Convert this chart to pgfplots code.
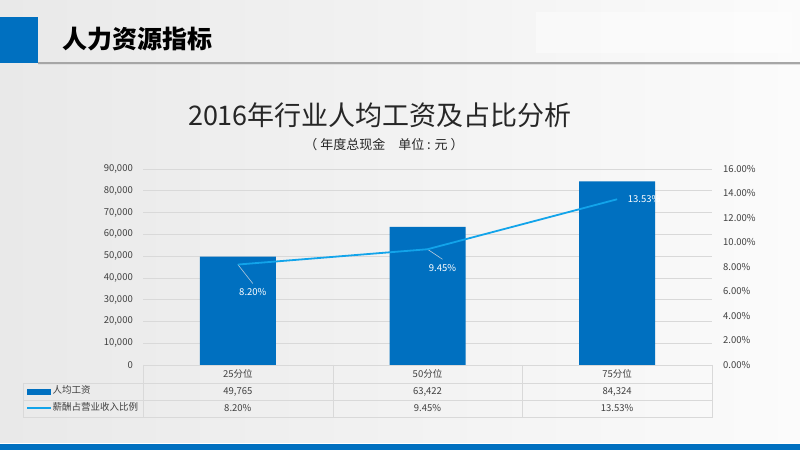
\documentclass[border=0pt]{standalone}
\usepackage{pgfplots}
\pgfplotsset{compat=1.18}
\usepackage{pgfplotstable}
\usepackage{fontspec}
\setmainfont{Noto Sans CJK SC}

\definecolor{barblue}{HTML}{0070C0}
\definecolor{lineblue}{HTML}{12A4EA}
\definecolor{gridgray}{HTML}{D9D9D9}
\definecolor{txt}{HTML}{404040}
\definecolor{leader}{HTML}{B4C8DC}
\definecolor{bgleft}{HTML}{E9E9E9}
\definecolor{bgright}{HTML}{FBFBFB}
\definecolor{rule}{HTML}{A6A6A6}
\definecolor{titletxt}{HTML}{262626}

% wage per percentile
\pgfplotstableread{
x wage
0 49765
1 63422
2 84324
}\wagedata

% share of revenue; dx dy = label offset (bp), u v = leader line (axis units)
\pgfplotstableread{
x ratio dx dy u v
0 8.20 15 -27 0.079 -1.55
1 9.45 15 -19 0.079 -0.82
2 13.53 27 0 0 0
}\ratiodata

\begin{document}
\begin{tikzpicture}
\useasboundingbox (0bp,0bp) rectangle (800bp,450bp);
\begin{scope}[x=1bp,y=1bp]
  \shade[left color=bgleft, right color=bgright] (0,0) rectangle (800,450);
  % header
  \fill[white, opacity=0.4] (536,397) rectangle (792,438);
  \fill[barblue] (0,387) rectangle (38,433);
  \draw[gray!25, line width=1bp] (38,385.6) -- (800,385.6);
  \draw[rule, line width=1.4bp] (38,387) -- (800,387);
  \node[anchor=west, inner sep=0pt, font=\fontsize{25bp}{25bp}\selectfont\bfseries] at (62,411) {人力资源指标};
  % titles
  \node[inner sep=0pt, text=titletxt, font=\fontsize{27bp}{27bp}\selectfont] at (380,335) {2016年行业人均工资及占比分析};
  \node[inner sep=0pt, text=titletxt, font=\fontsize{13bp}{13bp}\selectfont] at (384,305) {（ 年度总现金\quad 单位 : 元 ）};
  % bottom band
  \fill[barblue] (0,0) rectangle (800,6);
  \draw[white, line width=0.8bp] (0,6.8) -- (800,6.8);
\end{scope}

\begin{axis}[
  at={(143bp,85bp)}, anchor=south west,
  scale only axis, width=569bp, height=196bp,
  xmin=-0.5, xmax=2.5, ymin=0, ymax=90000,
  ytick={0,10000,...,90000},
  scaled y ticks=false,
  ymajorgrids, grid style={gridgray, line width=0.6bp},
  axis x line*=bottom, axis y line*=left,
  y axis line style={draw=none},
  x axis line style={gridgray, line width=0.8bp, -},
  major tick length=0pt,
  xtick={0,1,2},
  xticklabels={{25分位\\49,765\\8.20\%},{50分位\\63,422\\9.45\%},{75分位\\84,324\\13.53\%}},
  xticklabel style={font=\fontsize{9.5bp}{17bp}\selectfont, text=txt, align=center, anchor=north, inner sep=0pt, yshift=-4bp},
  yticklabel style={font=\fontsize{9.5bp}{10bp}\selectfont, text=txt, anchor=east, inner sep=0pt, xshift=-10bp},
  /pgf/number format/1000 sep={,},
  /pgf/number format/assume math mode=true,
]
\addplot[ybar, bar width=76bp, bar shift=0pt, fill=barblue, draw=none] table[x=x, y=wage] {\wagedata};
\end{axis}

\begin{axis}[
  at={(143bp,85bp)}, anchor=south west,
  scale only axis, width=569bp, height=196bp,
  xmin=-0.5, xmax=2.5, ymin=0, ymax=16,
  ytick={0,2,...,16},
  axis x line=none, axis y line*=right,
  y axis line style={draw=none},
  major tick length=0pt,
  yticklabel={\pgfmathprintnumber[fixed,fixed zerofill,precision=2]{\tick}\%},
  yticklabel style={font=\fontsize{9.5bp}{10bp}\selectfont, text=txt, anchor=west, inner sep=0pt, xshift=11bp},
  /pgf/number format/assume math mode=true,
  legend style={at={(-0.2056,-0.0918)}, anchor=north west, draw=none, fill=none,
    inner sep=0pt, outer sep=0pt, row sep=0pt,
    font=\fontsize{9.5bp}{10bp}\selectfont, text=txt,
    nodes={inner ysep=0pt, inner xsep=0pt, text height=11bp, text depth=6bp},
    /tikz/every odd column/.append style={column sep=0.5bp}},
  legend cell align=left,
]
\addlegendimage{legend image code/.code={\fill[barblue] (0bp,-2.5bp) rectangle (23bp,2.5bp);}}
\addlegendentry{人均工资}
\addplot[leader, line width=0.6bp, mark=none, forget plot,
  quiver={u=\thisrow{u}, v=\thisrow{v}, every arrow/.append style={-}}]
  table[x=x, y=ratio] {\ratiodata};
\addplot[lineblue, line width=1.8bp, mark=none,
  legend image code/.code={\draw[lineblue, line width=2bp] (0bp,0bp) -- (24bp,0bp);},
  point meta=y,
  visualization depends on={\thisrow{dx} \as \dx},
  visualization depends on={\thisrow{dy} \as \dy},
  nodes near coords={\pgfmathprintnumber[fixed,fixed zerofill,precision=2]{\pgfplotspointmeta}\%},
  every node near coord/.append style={text=white, font=\fontsize{9.5bp}{10bp}\selectfont,
    anchor=center, inner sep=0pt, xshift=\dx*1bp, yshift=\dy*1bp}]
  table[x=x, y=ratio] {\ratiodata};
\addlegendentry{薪酬占营业收入比例}
\end{axis}

\begin{scope}[x=1bp,y=1bp]
  \draw[gridgray, line width=0.8bp] (23,67) -- (713,67) (23,50) -- (713,50) (23,33) -- (713,33);
  \draw[gridgray, line width=0.8bp] (23,67) -- (23,33) (143,85) -- (143,33) (333,85) -- (333,33) (522,85) -- (522,33) (712,85) -- (712,33);
\end{scope}
\end{tikzpicture}
\end{document}
